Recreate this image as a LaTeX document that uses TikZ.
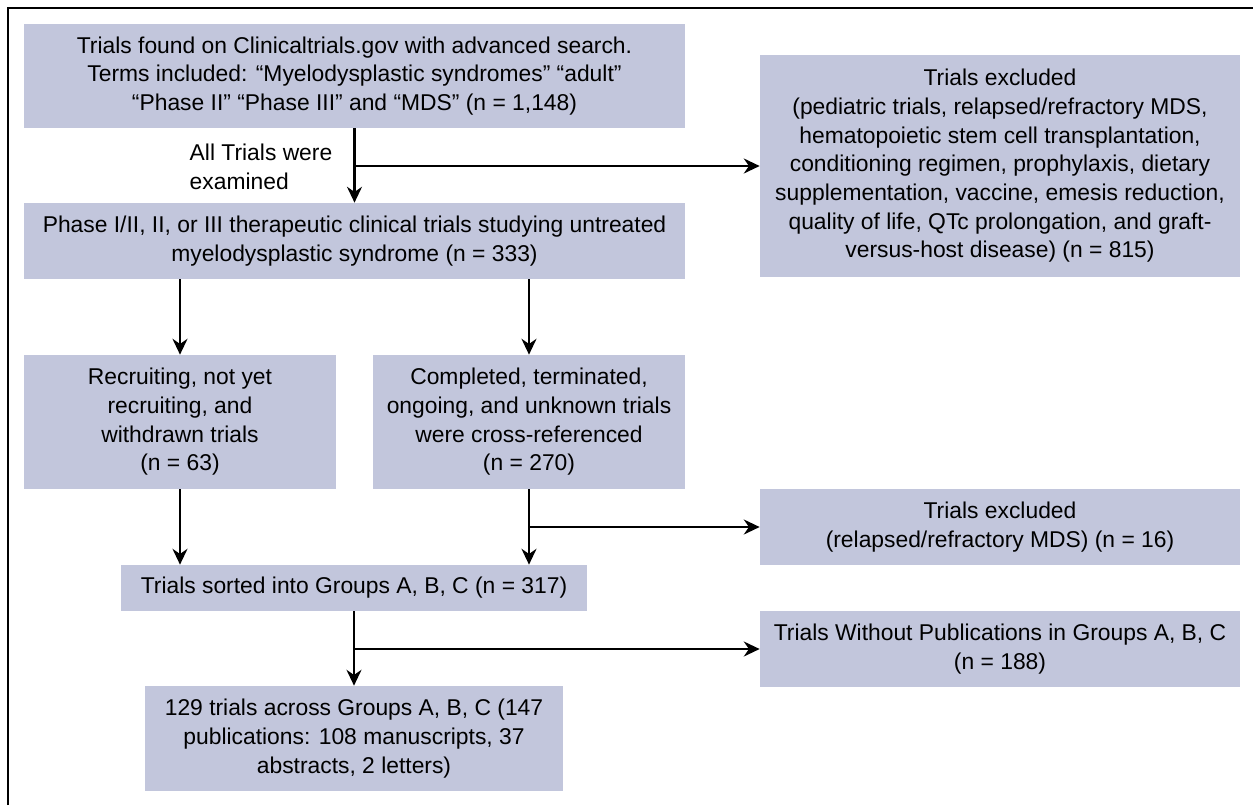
\documentclass[tikz,border=0pt]{standalone}
\usepackage{fontspec}
\setmainfont{Liberation Sans}
\usepackage{tikz}
\usetikzlibrary{shapes,arrows,arrows.meta,positioning,calc}
\definecolor{boxfill}{RGB}{194,198,220}

\begin{document}
\begin{tikzpicture}[
    font = \fontsize{13}{16.3}\selectfont,
    stage/.style = {rectangle, fill=boxfill, align=center, inner sep=2pt},
    flow/.style = {-{Stealth[length=9pt,width=8.5pt]}, line width=1.4pt}
]
    \useasboundingbox (0,0) rectangle (25.06,-16.1);
    % outer frame
    \draw[line width=1.3pt] (0.16,-16.1) -- (0.16,-0.16) -- (25.06,-0.16);

    % Search and screening
    \node[stage, minimum width=13.22cm, minimum height=2.08cm] (found) at (7.09,-1.52)
        {Trials found on Clinicaltrials.gov with advanced search.\\
         Terms included: “Myelodysplastic syndromes” “adult”\\
         “Phase II” “Phase III” and “MDS” (n = 1,148)};
    \node[stage, minimum width=13.22cm, minimum height=1.52cm] (phase) at (7.09,-4.82)
        {Phase I/II, II, or III therapeutic clinical trials studying untreated\\
         myelodysplastic syndrome (n = 333)};
    \node[stage, minimum width=9.6cm, minimum height=4.44cm] (excl) at (20.0,-3.32)
        {Trials excluded\\
         (pediatric trials, relapsed/refractory MDS,\\
         hematopoietic stem cell transplantation,\\
         conditioning regimen, prophylaxis, dietary\\
         supplementation, vaccine, emesis reduction,\\
         quality of life, QTc prolongation, and graft-\\
         versus-host disease) (n = 815)};
    \node[align=left] (examined) at (5.22,-3.34) {All Trials were\\examined};

    % Status split
    \node[stage, minimum width=6.24cm, minimum height=2.68cm] (recruit) at (3.6,-8.44)
        {Recruiting, not yet\\ recruiting, and\\ withdrawn trials\\ (n = 63)};
    \node[stage, minimum width=6.24cm, minimum height=2.68cm] (complete) at (10.58,-8.44)
        {Completed, terminated,\\ ongoing, and unknown trials\\ were cross-referenced\\ (n = 270)};
    \node[stage, minimum width=9.6cm, minimum height=1.52cm] (relapsed) at (20.0,-10.54)
        {Trials excluded\\ (relapsed/refractory MDS) (n = 16)};

    % Grouping and publications
    \node[stage, minimum width=9.32cm, minimum height=0.92cm] (sorted) at (7.08,-11.76)
        {Trials sorted into Groups A, B, C (n = 317)};
    \node[stage, minimum width=9.6cm, minimum height=1.52cm] (nopub) at (20.0,-12.98)
        {Trials Without Publications in Groups A, B, C\\ (n = 188)};
    \node[stage, minimum width=8.36cm, minimum height=2.1cm] (published) at (7.08,-14.77)
        {129 trials across Groups A, B, C (147\\ publications: 108 manuscripts, 37\\ abstracts, 2 letters)};

    % Arrows
    \draw[flow] (found) -- (phase);
    \draw[flow] (found.south |- excl.west) -- (excl.west);
    \draw[flow] (recruit.north |- phase.south) -- (recruit);
    \draw[flow] (complete.north |- phase.south) -- (complete);
    \draw[flow] (recruit) -- (recruit.south |- sorted.north);
    \draw[flow] (complete) -- (complete.south |- sorted.north);
    \draw[flow] (complete.south |- relapsed.west) -- (relapsed.west);
    \draw[flow] (sorted) -- (published);
    \draw[flow] (sorted.south |- nopub.west) -- (nopub.west);

\end{tikzpicture}
\end{document}
